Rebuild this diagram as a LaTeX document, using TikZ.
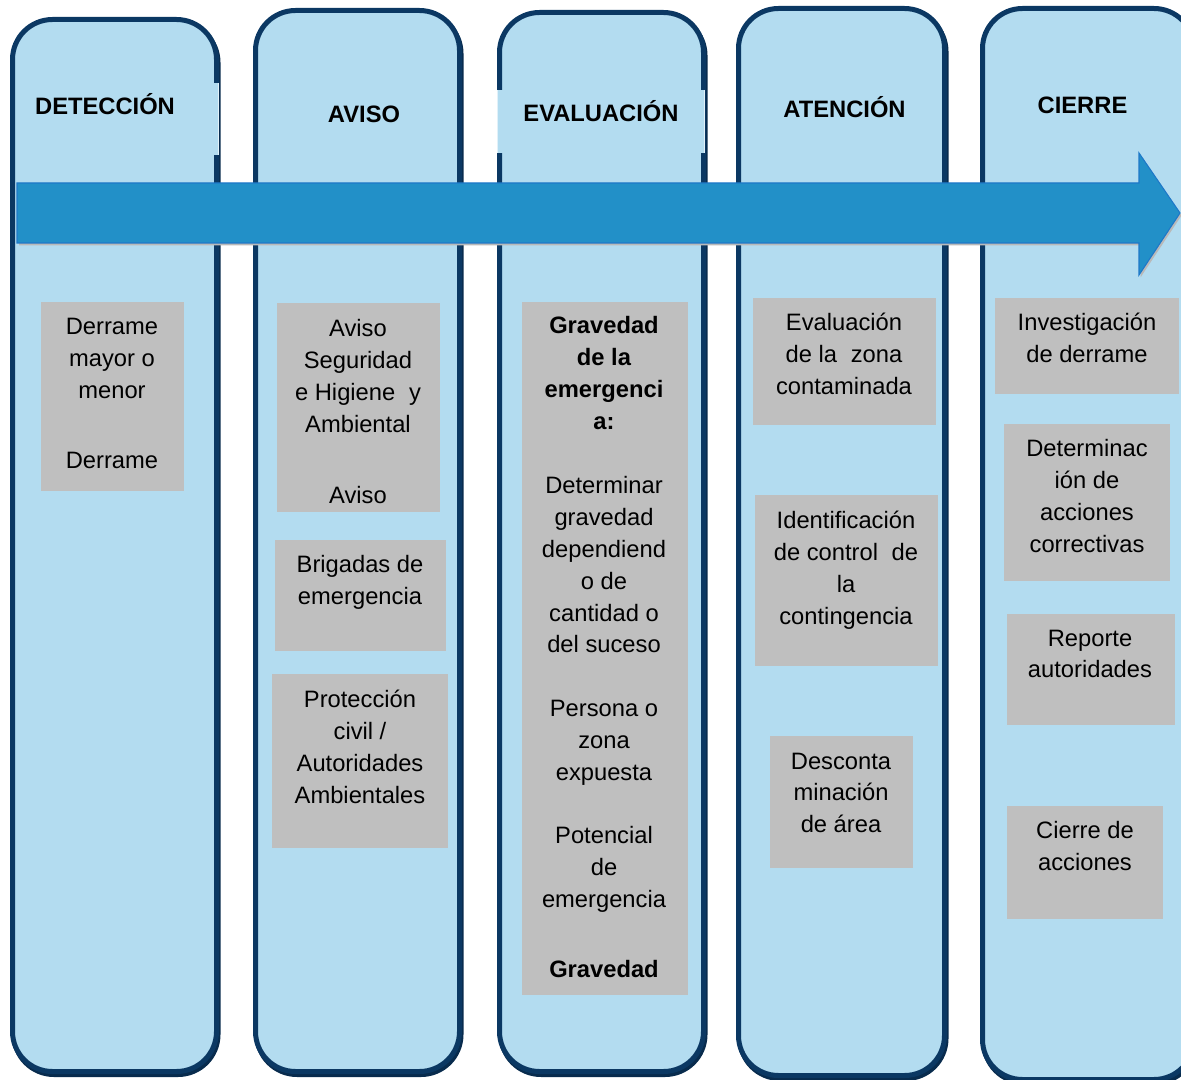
\documentclass[tikz,border=0pt]{standalone}
\usepackage{fontspec}
\setmainfont{Liberation Sans}
\definecolor{colfill}{HTML}{B3DCF0}
\definecolor{navy}{HTML}{0B3863}
\definecolor{navyshadow}{HTML}{082B4D}
\definecolor{arrowfill}{HTML}{2290C8}
\definecolor{arrowedge}{HTML}{1E78C8}
\definecolor{boxgray}{HTML}{BFBFBF}
\newcommand{\mkcol}[5]{%
  \draw[colshadow] (#2+1.5,#3+3) rectangle (#4+1.5,#5+3);
  \node[col, minimum width={(#4-#2)*0.75pt}, minimum height={(#5-#3)*0.75pt}] (#1) at ({(#2+#4)/2},{(#3+#5)/2}) {};}
\newcommand{\mkgb}[5]{%
  \node[gbox, minimum width={(#4-#2)*0.75pt}, minimum height={(#5-#3)*0.75pt}] (#1) at ({(#2+#4)/2},{(#3+#5)/2}) {};}
\begin{document}
\begin{tikzpicture}[x=0.75pt,y=-0.75pt,
  col/.style={draw=navy, line width=3.75pt, fill=colfill, rounded corners=30pt, inner sep=0pt},
  colshadow/.style={draw=navyshadow, line width=3.75pt, rounded corners=30pt},
  gbox/.style={fill=boxgray, draw=none, inner sep=0pt},
  gtxt/.style={align=center, inner sep=0pt, anchor=north, font=\fontsize{17.8pt}{23.9pt}\selectfont},
  ttl/.style={anchor=base, inner sep=0pt, font=\bfseries\fontsize{17.8pt}{21pt}\selectfont},
  edge/.style={draw=white!60!colfill, line width=0.6pt}]
\useasboundingbox (0,0) rectangle (1181,1080);
\clip (0,0) rectangle (1181,1080);
% columns
\mkcol{c1}{12.5}{19.5}{216.5}{1071.5}
\mkcol{c2}{255.5}{10.5}{459.5}{1071.5}
\mkcol{c3}{499.5}{12.5}{703.5}{1071.5}
\mkcol{c4}{738.5}{8.5}{944.5}{1075.5}
\mkcol{c5}{982.5}{8.5}{1194}{1079.5}
% arrow
\fill[gray!55] (19,185.5) -- (1140.5,185.5) -- (1140.5,155.5) -- (1181.5,215.5) -- (1140.5,277.5) -- (1140.5,245.5) -- (19,245.5) -- cycle;
\draw[fill=arrowfill, draw=arrowedge, line width=0.8pt] (17,183) -- (1139,183) -- (1139,153) -- (1180,213) -- (1139,275) -- (1139,243) -- (17,243) -- cycle;
% title patches
\fill[colfill] (40,83) rectangle (218.5,155);
\draw[edge] (218.5,83) -- (218.5,155);
\fill[colfill] (497.5,90) rectangle (704,153);
\draw[edge] (497.5,90) -- (497.5,153);
\draw[edge] (704,90) -- (704,153);
% titles
\node[ttl] (h1) at (105,115) {DETECCIÓN};
\node[ttl] (h2) at (364,122.5) {AVISO};
\node[ttl] (h3) at (601,122) {EVALUACIÓN};
\node[ttl] (h4) at (844.5,118) {ATENCIÓN};
\node[ttl] (h5) at (1082.5,114) {CIERRE};
% gray boxes
\mkgb{g1}{41}{302}{184}{491}
\mkgb{g2a}{277}{303}{440}{512}
\mkgb{g2b}{275}{540}{446}{651}
\mkgb{g2c}{272}{674}{448}{848}
\mkgb{g3}{522}{302}{688}{995}
\mkgb{g4a}{753}{298}{936}{425}
\mkgb{g4b}{755}{495}{938}{666}
\mkgb{g4c}{770}{736}{913}{868}
\mkgb{g5a}{995}{298}{1179}{394}
\mkgb{g5b}{1004}{424}{1170}{581}
\mkgb{g5c}{1007}{614}{1175}{725}
\mkgb{g5d}{1007}{806}{1163}{919}
% texts
\node[gtxt] (t1) at (112,318) {Derrame\\mayor o\\menor\\[28.6pt]Derrame};
\node[gtxt] (t2a) at (358,319.5) {Aviso\\Seguridad\\e Higiene\hspace{0.3em} y\\Ambiental\\[29.3pt]Aviso};
\node[gtxt] (t2b) at (360,555.5) {Brigadas de\\emergencia};
\node[gtxt] (t2c) at (360,690) {Protección\\civil /\\Autoridades\\Ambientales};
\node[gtxt] (t3) at (604,316.5) {\textbf{Gravedad}\\\textbf{de la}\\\textbf{emergenci}\\\textbf{a:}\\[24.1pt]Determinar\\gravedad\\dependiend\\o de\\cantidad o\\del suceso\\[24.1pt]Persona o\\zona\\expuesta\\[23.4pt]Potencial\\de\\emergencia\\[28.6pt]\textbf{Gravedad}};
\node[gtxt] (t4a) at (844,313) {Evaluación\\de la\hspace{0.3em} zona\\contaminada};
\node[gtxt] (t4b) at (846,511) {Identificación\\de control\hspace{0.3em} de\\la\\contingencia};
\node[gtxt] (t4c) at (841,752.5) {Desconta\\minación\\de área};
\node[gtxt] (t5a) at (1087,313) {Investigación\\de derrame};
\node[gtxt] (t5b) at (1087,439.5) {Determinac\\ión de\\acciones\\correctivas};
\node[gtxt] (t5c) at (1090,629.5) {Reporte\\autoridades};
\node[gtxt] (t5d) at (1085,821.5) {Cierre de\\acciones};
\end{tikzpicture}
\end{document}
